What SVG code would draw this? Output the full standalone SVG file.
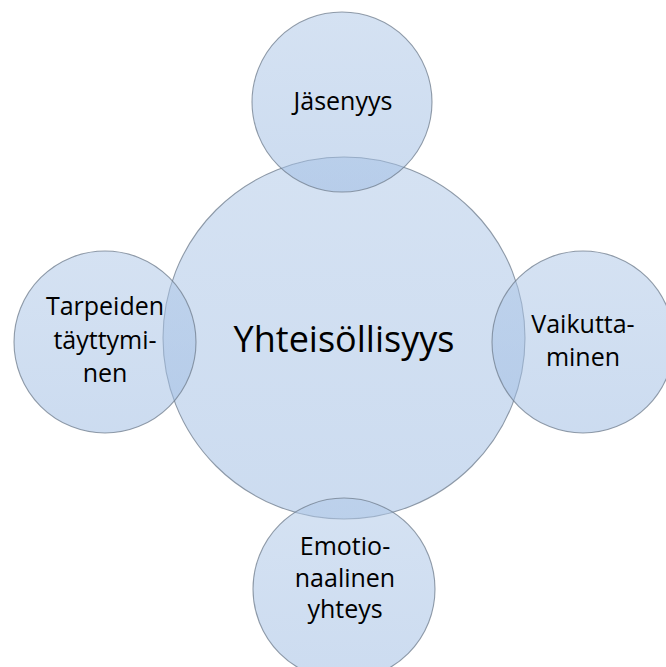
<svg xmlns="http://www.w3.org/2000/svg" width="666" height="667" viewBox="0 0 666 667">
<defs>
<linearGradient id="g" x1="0" y1="0" x2="0" y2="1">
<stop offset="0" stop-color="#aec7e7"/>
<stop offset="1" stop-color="#9dbbe2"/>
</linearGradient>
<style>
.c{fill:url(#g);fill-opacity:0.52;stroke:#6f7c8c;stroke-opacity:0.75;stroke-width:1.1}
.t{font-family:"Open Sans","Noto Sans",sans-serif;fill:#000;text-anchor:middle}
.s{font-size:25px}
.b{font-size:36px}
</style>
</defs>
<rect width="666" height="667" fill="#fff"/>
<g id="center">
<circle class="c" cx="344" cy="338" r="181"/>
<text class="t b" x="344" y="352">Yhteisöllisyys</text>
</g>
<g id="top">
<circle class="c" cx="342" cy="102" r="90"/>
<text class="t s" x="343" y="110">Jäsenyys</text>
</g>
<g id="left">
<circle class="c" cx="105" cy="342" r="91"/>
<text class="t s" x="105" y="315">Tarpeiden</text>
<text class="t s" x="105" y="349">täyttymi-</text>
<text class="t s" x="105" y="382">nen</text>
</g>
<g id="right">
<circle class="c" cx="583" cy="342" r="91"/>
<text class="t s" x="583" y="333">Vaikutta-</text>
<text class="t s" x="583" y="366">minen</text>
</g>
<g id="bottom">
<circle class="c" cx="344" cy="589" r="91"/>
<text class="t s" x="345" y="555">Emotio-</text>
<text class="t s" x="345" y="587">naalinen</text>
<text class="t s" x="345" y="618">yhteys</text>
</g>
<g id="connectors"></g>
</svg>
